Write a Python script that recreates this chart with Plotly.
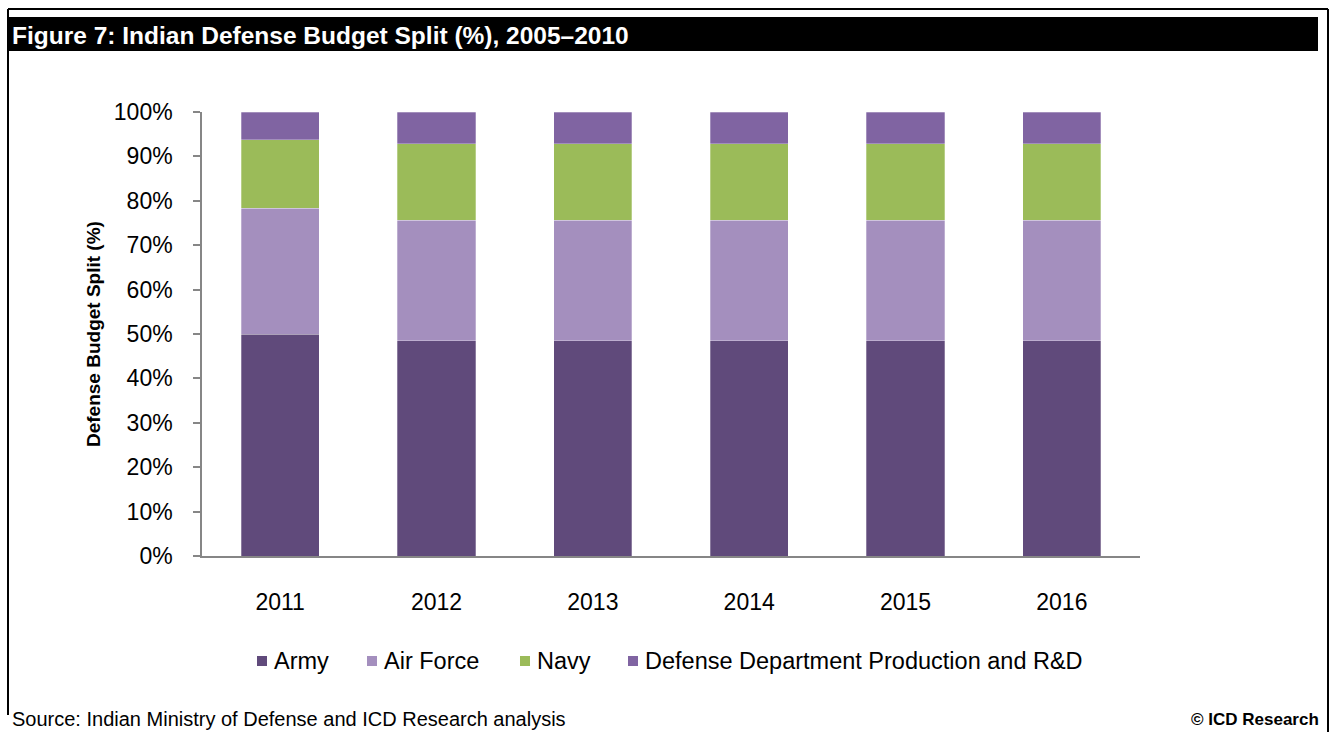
import plotly.graph_objects as go

# Indian defense budget split by service, share of total (%)
years = ["2011", "2012", "2013", "2014", "2015", "2016"]
army = [49.9, 48.5, 48.5, 48.5, 48.5, 48.5]
air_force = [28.4, 27.1, 27.1, 27.1, 27.1, 27.1]
navy = [15.4, 17.2, 17.2, 17.2, 17.2, 17.2]
ddp_rnd = [6.3, 7.2, 7.2, 7.2, 7.2, 7.2]

series_names = ["Army", "Air Force", "Navy", "Defense Department Production and R&D"]
series_colors = ["#604A7B", "#A48FBE", "#9BBB59", "#8064A2"]
y_ticks = list(range(0, 101, 10))

W, H = 1330, 732
L, R, T, B = 202, 190, 112, 176
PW, PH = W - L - R, H - T - B
FONT = "Liberation Sans, Arial, sans-serif"


def px(xpix):
    return (xpix - L) / PW


def py(ypix):
    return (H - B - ypix) / PH


fig = go.Figure()
for name, vals, col in zip(series_names, [army, air_force, navy, ddp_rnd], series_colors):
    fig.add_trace(go.Bar(
        x=years, y=vals, name=name, showlegend=False,
        marker=dict(color=col, line=dict(color="rgba(255,255,255,0.35)", width=0.8)),
    ))

shapes = [
    # outer frame
    dict(type="line", xref="paper", yref="paper", x0=px(8), x1=px(1328), y0=py(9), y1=py(9),
         line=dict(color="black", width=2)),
    dict(type="line", xref="paper", yref="paper", x0=px(8), x1=px(8), y0=py(9), y1=py(715),
         line=dict(color="black", width=2)),
    dict(type="line", xref="paper", yref="paper", x0=px(1328), x1=px(1328), y0=py(9), y1=py(732),
         line=dict(color="black", width=2)),
    # title band
    dict(type="rect", xref="paper", yref="paper", x0=px(8), x1=px(1318), y0=py(51), y1=py(17),
         fillcolor="black", line=dict(width=0), layer="below"),
]

annotations = [
    dict(text="<b>Figure 7: Indian Defense Budget Split (%), 2005\u20132010</b>",
         xref="paper", yref="paper", x=px(10), y=py(35), xanchor="left", yanchor="middle",
         showarrow=False, font=dict(family=FONT, size=24.5, color="white")),
    dict(text="<b>Defense Budget Split (%)</b>", textangle=-90,
         xref="paper", yref="paper", x=px(93), y=py(334), xanchor="center", yanchor="middle",
         showarrow=False, font=dict(family=FONT, size=19, color="black")),
    dict(text="Source: Indian Ministry of Defense and ICD Research analysis",
         xref="paper", yref="paper", x=px(10), y=py(719), xanchor="left", yanchor="middle",
         showarrow=False, font=dict(family=FONT, size=20, color="black")),
    dict(text="<b>\u00a9 ICD Research</b>",
         xref="paper", yref="paper", x=px(1321), y=py(719), xanchor="right", yanchor="middle",
         showarrow=False, font=dict(family=FONT, size=17, color="black")),
]

# legend row: colour swatch followed by series name
legend_swatch_x = [262, 372, 525, 633]
legend_y = 661
for name, col, sx in zip(series_names, series_colors, legend_swatch_x):
    shapes.append(dict(type="rect", xref="paper", yref="paper",
                       x0=px(sx - 5), x1=px(sx + 5), y0=py(legend_y + 5), y1=py(legend_y - 5),
                       fillcolor=col, line=dict(width=0)))
    annotations.append(dict(text=name, xref="paper", yref="paper",
                            x=px(sx + 10), y=py(legend_y), xanchor="left", yanchor="middle",
                            showarrow=False, font=dict(family=FONT, size=23.5, color="black")))

fig.update_layout(
    width=W, height=H,
    margin=dict(l=L, r=R, t=T, b=B, pad=0),
    paper_bgcolor="white", plot_bgcolor="white",
    barmode="stack", bargap=0.5,
    font=dict(family=FONT, size=23, color="black"),
    showlegend=False,
    shapes=shapes,
    annotations=annotations,
    xaxis=dict(showline=True, linecolor="#868686", linewidth=2, ticks="",
               showgrid=False, ticklabelstandoff=24,
               tickfont=dict(family=FONT, size=23, color="black")),
    yaxis=dict(range=[0, 100], tickvals=y_ticks, ticktext=[f"{v}%" for v in y_ticks],
               showline=True, linecolor="#868686", linewidth=1.5,
               ticks="outside", ticklen=7, tickcolor="#868686", tickwidth=1.5,
               showgrid=False, zeroline=False, ticklabelstandoff=16,
               tickfont=dict(family=FONT, size=23, color="black")),
)

fig.write_html("out.html")
